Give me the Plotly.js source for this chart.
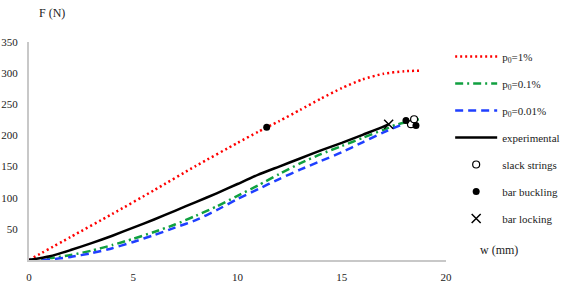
<!DOCTYPE html>
<html>
<head>
<meta charset="utf-8">
<script src="https://cdn.plot.ly/plotly-3.0.1.min.js"></script>
<style>html,body{margin:0;padding:0;background:#fff;}#chart{width:561px;height:282px;}</style>
</head>
<body>
<div id="chart"></div>
<script>
// Data
const wRed   = [0,2,4,6,8,10,11,12,13,14,15,16,17,18,18.8];
const fRed   = [0,37,74,112,151,188,206,223,241,259,276,290,299,303,304];
const wGreen = [0,1,2,3,4,5,6,7,8,9,10,11,12,13,14,15,16,17,17.6,18.2,18.7];
const fGreen = [0,3,8,15,24,34,45,57,71,86,103,120,138,155,170,183,196,209,217,222,226];
const wBlue  = [0,1,2,3,4,5,6,7,8,9,10,11,12,13,14,15,16,17,17.8];
const fBlue  = [0,1,5,11,19,29,40,52,64,80,98,114,130,145,159,173,189,205,216];
const wExp   = [0,1,2,3,4,5,6,7,8,9,10,11,12,13,14,15,16,17,17.27];
const fExp   = [0,6,16,27,39,52,65,79,93,107,122,137,150,163,176,188,201,214,218];
const wSlack = [18.32,18.47];
const fSlack = [218,226];
const wBuck  = [11.4,18.08,18.56];
const fBuck  = [213,224,216];
const wLock  = [17.25];
const fLock  = [218];
const xTicks = [0,5,10,15,20];
const yTicks = [50,100,150,200,250,300,350];
const names  = ['p<sub>0</sub>=1%','p<sub>0</sub>=0.1%','p<sub>0</sub>=0.01%','experimental','slack strings','bar buckling','bar locking'];

const FAM = '"Liberation Serif", "Times New Roman", serif';
const font = {family:FAM, size:11, color:'#222'};
const sm = 0.6;
const data = [
  {x:wRed, y:fRed, mode:'lines', name:names[0], line:{color:'#ff0000', width:2.5, dash:'2px,3px', shape:'spline', smoothing:sm}, legendgroup:'a'},
  {x:wGreen, y:fGreen, mode:'lines', name:names[1], line:{color:'#10a040', width:2.5, dash:'8px,4px,2px,4px', shape:'spline', smoothing:sm}, legendgroup:'b'},
  {x:wBlue, y:fBlue, mode:'lines', name:names[2], line:{color:'#1f3fff', width:2.5, dash:'8px,5px', shape:'spline', smoothing:sm}, legendgroup:'c'},
  {x:wExp, y:fExp, mode:'lines', name:names[3], line:{color:'#000', width:2.5, shape:'spline', smoothing:sm}, legendgroup:'d'},
  {x:wSlack, y:fSlack, mode:'markers', name:names[4], marker:{symbol:'circle', size:7, color:'#fff', line:{color:'#000', width:1.2}}, legendgroup:'e'},
  {x:wBuck, y:fBuck, mode:'markers', name:names[5], marker:{symbol:'circle', size:7, color:'#000'}, legendgroup:'f'},
  {x:wLock, y:fLock, mode:'markers', name:names[6], marker:{symbol:'x-thin-open', size:9, color:'#000', line:{color:'#000', width:1.5}}, legendgroup:'g'}
];
const layout = {
  width:561, height:282,
  margin:{l:29, r:115, t:42, b:22, autoexpand:false},
  paper_bgcolor:'#fff', plot_bgcolor:'#fff',
  font:font,
  showlegend:true,
  legend:{x:1.01, xanchor:'left', y:1.0, yanchor:'top', font:{family:FAM, size:11, color:'#222'}, tracegroupgap:8, itemwidth:42, bgcolor:'rgba(0,0,0,0)'},
  xaxis:{range:[0,20], tickvals:xTicks, ticktext:xTicks.map(String), showgrid:false, zeroline:false, showline:true, linecolor:'#c8c8c8', linewidth:2, ticks:'', ticklabelstandoff:6, tickfont:font, fixedrange:true},
  yaxis:{range:[0,350], tickvals:yTicks, ticktext:yTicks.map(String), showgrid:false, zeroline:false, showline:true, linecolor:'#c8c8c8', linewidth:2, ticks:'', ticklabelstandoff:7, tickfont:font, fixedrange:true},
  annotations:[
    {text:'F (N)', xref:'paper', yref:'paper', x:0.02, y:1.133, xanchor:'left', yanchor:'middle', showarrow:false, font:{family:FAM, size:12, color:'#222'}},
    {text:'w (mm)', xref:'paper', yref:'paper', x:1.077, y:0.045, xanchor:'left', yanchor:'middle', showarrow:false, font:{family:FAM, size:12, color:'#222'}}
  ]
};
Plotly.newPlot('chart', data, layout, {displayModeBar:false, staticPlot:true});
</script>
</body>
</html>
